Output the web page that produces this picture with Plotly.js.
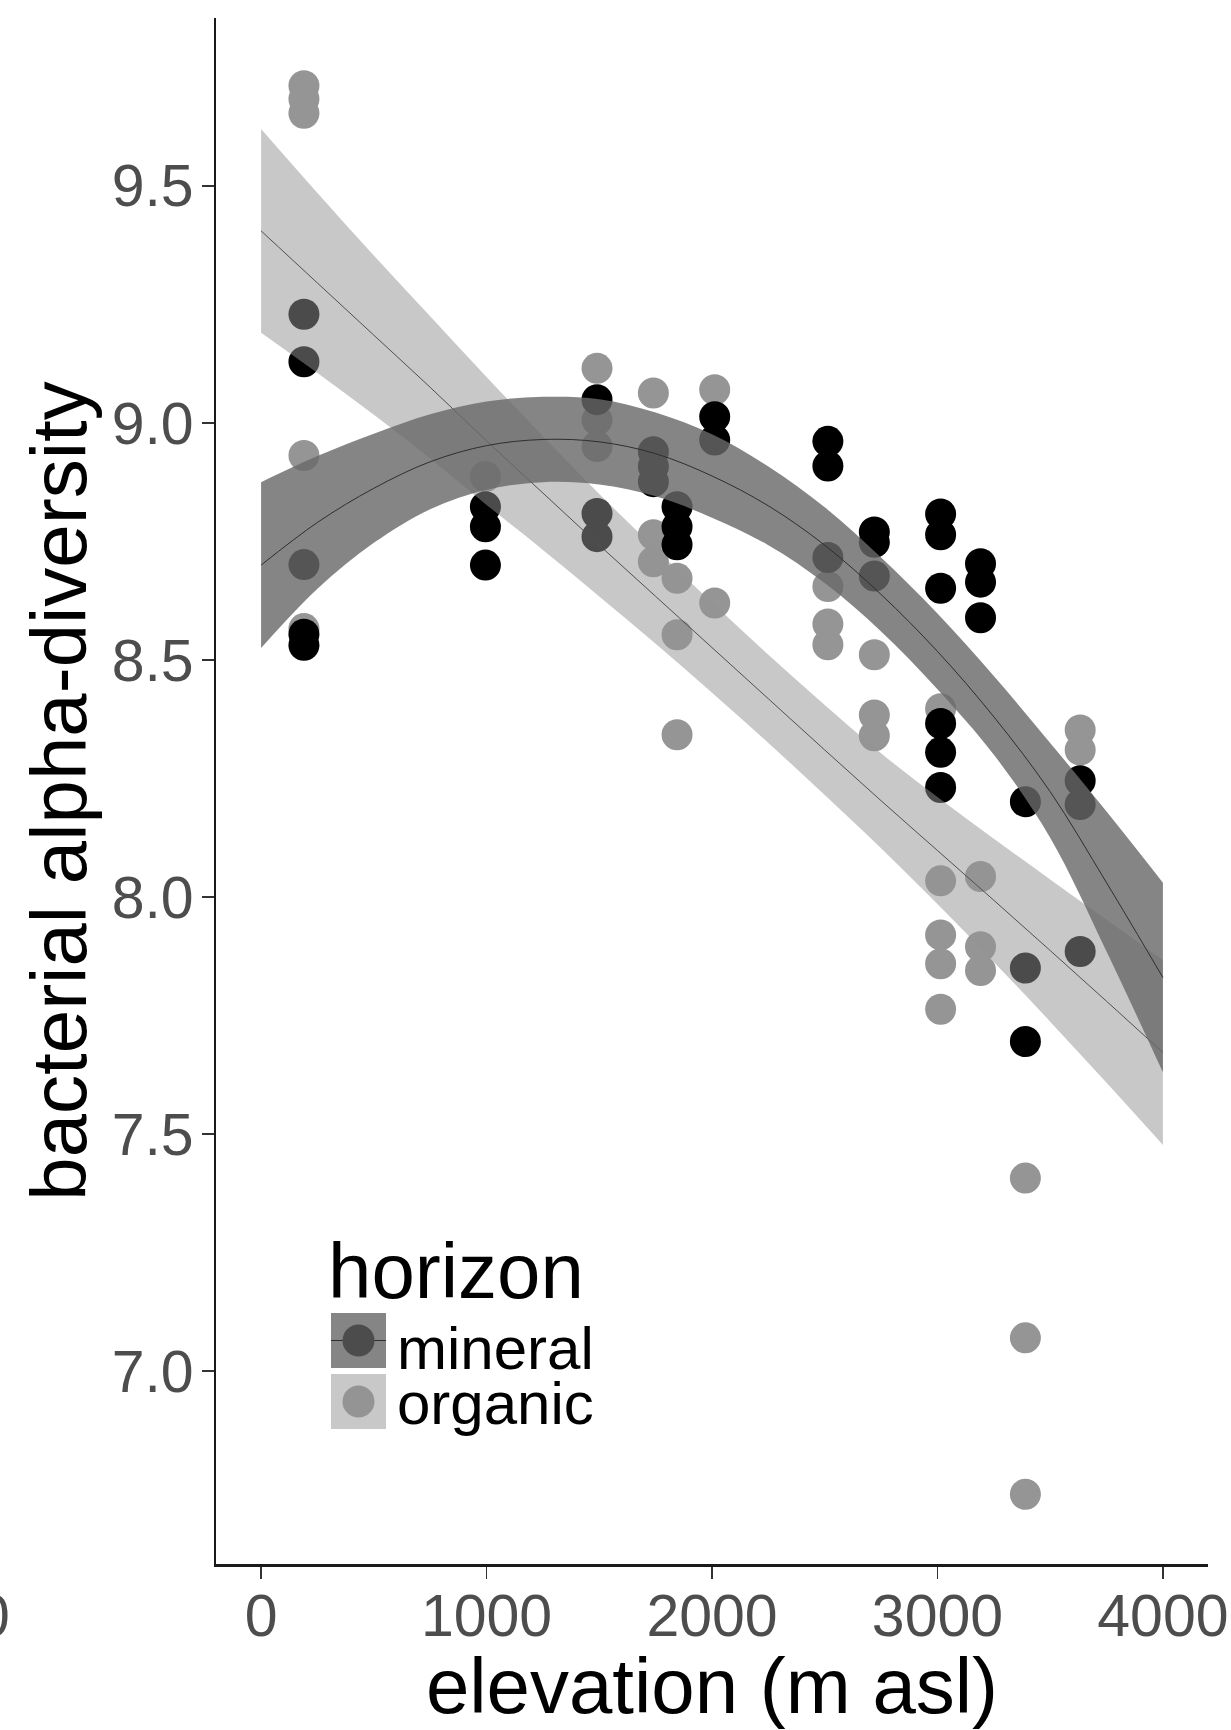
<!DOCTYPE html>
<html>
<head>
<meta charset="utf-8">
<script src="https://cdn.plot.ly/plotly-3.0.1.min.js"></script>
<style>
  html, body { margin: 0; padding: 0; background: #ffffff; }
  #chart { width: 1231px; height: 1730px; }
</style>
</head>
<body>
<div id="chart"></div>
<script>
// ---------- data ----------
const organicElevation = [190,190,190,190,190, 995, 1490,1490,1490, 1740,1740,1740, 1845,1845,1845, 2012,2012, 2514,2514,2514, 2720,2720,2720, 3014,3014,3014,3014,3014, 3191,3191,3191, 3390,3390,3390, 3633,3633];
const organicDiversity = [9.711,9.683,9.653,8.931,8.566, 8.887, 9.115,9.006,8.950, 9.063,8.764,8.707, 8.672,8.553,8.342, 9.070,8.620, 8.655,8.576,8.532, 8.511,8.384,8.340, 8.397,8.034,7.920,7.859,7.763, 8.043,7.895,7.845, 7.407,7.070,6.740, 8.352,8.310];

const mineralElevation = [190,190,190,190,190, 995,995,995, 1490,1490,1490, 1740,1740,1740, 1845,1845,1845, 2012,2012, 2514,2514,2514, 2720,2720,2720, 3014,3014,3014,3014,3014,3014, 3191,3191,3191, 3390,3390,3390, 3633,3633,3633];
const mineralDiversity = [9.229,9.129,8.701,8.554,8.531, 8.823,8.781,8.700, 9.049,8.809,8.760, 8.939,8.908,8.876, 8.823,8.781,8.743, 9.013,8.964, 8.961,8.909,8.716, 8.770,8.748,8.677, 8.808,8.764,8.651,8.366,8.305,8.231, 8.703,8.664,8.589, 8.201,7.850,7.695, 8.245,8.195,7.885];

// fitted curves and confidence bands, read at every 250 m
const fitElevation = [0,250,500,750,1000,1250,1500,1750,2000,2250,2500,2750,3000,3250,3500,3750,4000];
const mineralFit   = [8.700,8.790,8.862,8.918,8.952,8.965,8.960,8.935,8.888,8.825,8.742,8.638,8.518,8.380,8.222,8.030,7.830];
const mineralUpper = [8.875,8.930,8.977,9.018,9.045,9.055,9.050,9.022,8.976,8.908,8.822,8.716,8.598,8.466,8.325,8.180,8.030];
const mineralLower = [8.525,8.650,8.747,8.818,8.859,8.875,8.870,8.845,8.800,8.742,8.662,8.560,8.438,8.300,8.125,7.885,7.630];
const organicFit   = [9.405,9.295,9.185,9.075,8.962,8.852,8.742,8.634,8.526,8.418,8.310,8.203,8.098,7.993,7.887,7.780,7.672];
const organicUpper = [9.620,9.485,9.353,9.225,9.097,8.972,8.850,8.734,8.621,8.511,8.405,8.303,8.211,8.123,8.037,7.952,7.867];
const organicLower = [9.190,9.105,9.017,8.925,8.827,8.732,8.634,8.534,8.431,8.325,8.215,8.103,7.985,7.863,7.737,7.608,7.477];

const xTickValues = [0,1000,2000,3000,4000];
const xTickLabels = ['0','1000','2000','3000','4000'];
const yTickValues = [7.0,7.5,8.0,8.5,9.0,9.5];
const yTickLabels = ['7.0','7.5','8.0','8.5','9.0','9.5'];

const legendTitle = 'horizon';
const horizonNames = ['mineral','organic'];

// ---------- styling ----------
const FONT = 'Liberation Sans, Arial, Helvetica, sans-serif';
const ORGANIC_POINT = '#959595';
const MINERAL_POINT = '#000000';
const ORGANIC_RIBBON = 'rgba(147,147,147,0.51)';
const MINERAL_RIBBON = 'rgba(105,105,105,0.81)';

const traces = [
  { type:'scatter', mode:'markers', x:organicElevation, y:organicDiversity, name:horizonNames[1],
    marker:{ size:31, color:ORGANIC_POINT, line:{width:0} }, showlegend:false, hoverinfo:'skip' },
  { type:'scatter', mode:'markers', x:mineralElevation, y:mineralDiversity, name:horizonNames[0],
    marker:{ size:31, color:MINERAL_POINT, line:{width:0} }, showlegend:false, hoverinfo:'skip' },
  // organic band
  { type:'scatter', mode:'lines', x:fitElevation, y:organicLower, line:{width:0, shape:'spline'}, showlegend:false, hoverinfo:'skip' },
  { type:'scatter', mode:'lines', x:fitElevation, y:organicUpper, line:{width:0, shape:'spline'}, fill:'tonexty', fillcolor:ORGANIC_RIBBON, showlegend:false, hoverinfo:'skip' },
  { type:'scatter', mode:'lines', x:fitElevation, y:organicFit, line:{width:1, color:'#505050', shape:'spline'}, showlegend:false, hoverinfo:'skip' },
  // mineral band
  { type:'scatter', mode:'lines', x:fitElevation, y:mineralLower, line:{width:0, shape:'spline'}, showlegend:false, hoverinfo:'skip' },
  { type:'scatter', mode:'lines', x:fitElevation, y:mineralUpper, line:{width:0, shape:'spline'}, fill:'tonexty', fillcolor:MINERAL_RIBBON, showlegend:false, hoverinfo:'skip' },
  { type:'scatter', mode:'lines', x:fitElevation, y:mineralFit, line:{width:1, color:'#2e2e2e', shape:'spline'}, showlegend:false, hoverinfo:'skip' }
];

// plot area in pixels: left 216, right 1208, top 18, bottom 1564
const PL = 216, PR = 1208, PT = 18, PB = 1564;
const px = X => (X - PL) / (PR - PL);
const py = Y => (PB - Y) / (PB - PT);

const shapes = [
  // mineral key
  { type:'rect', xref:'paper', yref:'paper', x0:px(331), x1:px(386), y0:py(1368), y1:py(1313), fillcolor:'#858585', line:{width:0} },
  { type:'line', xref:'paper', yref:'paper', x0:px(331), x1:px(386), y0:py(1340.5), y1:py(1340.5), line:{color:'#2e2e2e', width:1} },
  { type:'circle', xref:'paper', yref:'paper', x0:px(342.5), x1:px(374.5), y0:py(1356.5), y1:py(1324.5), fillcolor:'#4c4c4c', line:{width:0} },
  // organic key
  { type:'rect', xref:'paper', yref:'paper', x0:px(331), x1:px(386), y0:py(1429), y1:py(1374), fillcolor:'#c8c8c8', line:{width:0} },
  { type:'circle', xref:'paper', yref:'paper', x0:px(342.5), x1:px(374.5), y0:py(1417.5), y1:py(1385.5), fillcolor:'#949494', line:{width:0} }
];

const annotations = [
  { xref:'paper', yref:'paper', x:px(326), y:py(1271), xanchor:'left', yanchor:'middle', showarrow:false,
    text:legendTitle, font:{family:FONT, size:78, color:'#000000'} },
  { xref:'paper', yref:'paper', x:px(395), y:py(1348), xanchor:'left', yanchor:'middle', showarrow:false,
    text:horizonNames[0], font:{family:FONT, size:60, color:'#000000'} },
  { xref:'paper', yref:'paper', x:px(395), y:py(1403), xanchor:'left', yanchor:'middle', showarrow:false,
    text:horizonNames[1], font:{family:FONT, size:60, color:'#000000'} },
  // fragment of a neighbouring panel's tick label at the far left edge
  { xref:'paper', yref:'paper', x:px(12), y:py(1616), xanchor:'right', yanchor:'middle', showarrow:false,
    text:'0', font:{family:FONT, size:59, color:'#4D4D4D'} }
];

const layout = {
  width:1231, height:1730,
  margin:{l:PL, r:1231-PR, t:PT, b:1730-PB, pad:0},
  paper_bgcolor:'#ffffff', plot_bgcolor:'#ffffff',
  font:{family:FONT},
  showlegend:false,
  xaxis:{
    range:[-200,4200], tickmode:'array', tickvals:xTickValues, ticktext:xTickLabels,
    ticks:'outside', ticklen:12, tickwidth:1.5, tickcolor:'#333333',
    showline:true, linecolor:'#1a1a1a', linewidth:2.5,
    showgrid:false, zeroline:false, automargin:false, ticklabelstandoff:-13,
    tickfont:{family:FONT, size:59, color:'#4D4D4D'},
    title:{text:'elevation (m asl)', font:{family:FONT, size:78, color:'#000000'}, standoff:13}
  },
  yaxis:{
    range:[6.593,9.854], tickmode:'array', tickvals:yTickValues, ticktext:yTickLabels,
    ticks:'outside', ticklen:12, tickwidth:1.5, tickcolor:'#333333',
    showline:true, linecolor:'#1a1a1a', linewidth:2.5,
    showgrid:false, zeroline:false, automargin:false, ticklabelstandoff:-4,
    tickfont:{family:FONT, size:59, color:'#4D4D4D'},
    title:{text:'bacterial alpha-diversity', font:{family:FONT, size:78, color:'#000000'}, standoff:0}
  },
  shapes:shapes,
  annotations:annotations
};

Plotly.newPlot('chart', traces, layout, {staticPlot:true, displayModeBar:false});
</script>
</body>
</html>
